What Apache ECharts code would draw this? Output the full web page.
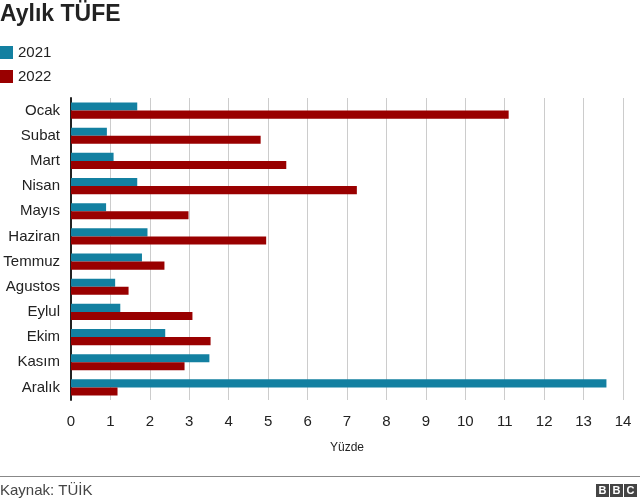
<!DOCTYPE html>
<html lang="tr">
<head>
    <meta charset="UTF-8">
    <title>Aylık TÜFE</title>
    <script src="https://cdn.jsdelivr.net/npm/echarts@6/dist/echarts.min.js"></script>
    <style>
        html, body { margin: 0; padding: 0; background: #fff; }
        #main { width: 640px; height: 504px; }
    </style>
</head>
<body>
<div id="main"></div>
<script>
    // aylar (yukarıdan aşağı)
    var months = ['Ocak', 'Subat', 'Mart', 'Nisan', 'Mayıs', 'Haziran', 'Temmuz', 'Agustos', 'Eylul', 'Ekim', 'Kasım', 'Aralık'];
    var cpi2021 = [1.68, 0.91, 1.08, 1.68, 0.89, 1.94, 1.80, 1.12, 1.25, 2.39, 3.51, 13.58];
    var cpi2022 = [11.10, 4.81, 5.46, 7.25, 2.98, 4.95, 2.37, 1.46, 3.08, 3.54, 2.88, 1.18];
    var xTicks = [0, 14, 1]; // min, max, interval

    var font = '"Liberation Sans", Arial, Helvetica, sans-serif';
    var myChart = echarts.init(document.getElementById('main'));

    var option = {
        animation: false,
        textStyle: { fontFamily: font },
        title: {
            text: 'Aylık TÜFE',
            left: 0,
            top: 3,
            padding: 0,
            textStyle: { fontSize: 23, fontWeight: 'bold', color: '#222', fontFamily: font }
        },
        legend: {
            data: ['2021', '2022'],
            orient: 'vertical',
            left: 0,
            top: 45,
            padding: 0,
            icon: 'rect',
            itemWidth: 13,
            itemHeight: 13,
            itemGap: 9,
            textStyle: { fontSize: 15, color: '#222', fontFamily: font }
        },
        grid: {
            left: 71,
            right: 17,
            top: 98,
            height: 302
        },
        xAxis: {
            type: 'value',
            min: xTicks[0],
            max: xTicks[1],
            interval: xTicks[2],
            name: 'Yüzde',
            nameLocation: 'middle',
            nameGap: 42,
            nameTextStyle: { fontSize: 12, color: '#222' },
            axisLine: { show: false },
            axisTick: { show: false },
            axisLabel: { fontSize: 15, color: '#222', margin: 14 },
            splitLine: { lineStyle: { color: '#cccccc', width: 1 } }
        },
        yAxis: {
            type: 'category',
            data: months,
            inverse: true,
            axisLine: { show: true, lineStyle: { color: '#222', width: 2 } },
            axisTick: { show: false },
            axisLabel: { fontSize: 15, color: '#222', margin: 11 }
        },
        series: [
            {
                name: '2021',
                type: 'bar',
                data: cpi2021,
                barGap: '0%',
                barCategoryGap: '36%',
                itemStyle: { color: '#1380a1' }
            },
            {
                name: '2022',
                type: 'bar',
                data: cpi2022,
                barGap: '0%',
                barCategoryGap: '36%',
                itemStyle: { color: '#990000' }
            }
        ],
        graphic: [
            {
                type: 'line',
                shape: { x1: 0, y1: 476.5, x2: 640, y2: 476.5 },
                style: { stroke: '#888', lineWidth: 1 }
            },
            {
                type: 'text',
                left: 0,
                top: 483,
                style: { text: 'Kaynak: TÜİK', font: '15px ' + font, fill: '#444' }
            },
            // BBC logo
            { type: 'rect', shape: { x: 596, y: 484, width: 13, height: 13 }, style: { fill: '#444' } },
            { type: 'rect', shape: { x: 610, y: 484, width: 13, height: 13 }, style: { fill: '#444' } },
            { type: 'rect', shape: { x: 624, y: 484, width: 13, height: 13 }, style: { fill: '#444' } },
            { type: 'text', x: 602.5, y: 491, style: { text: 'B', font: 'bold 11px ' + font, fill: '#fff', align: 'center', verticalAlign: 'middle' } },
            { type: 'text', x: 616.5, y: 491, style: { text: 'B', font: 'bold 11px ' + font, fill: '#fff', align: 'center', verticalAlign: 'middle' } },
            { type: 'text', x: 630.5, y: 491, style: { text: 'C', font: 'bold 11px ' + font, fill: '#fff', align: 'center', verticalAlign: 'middle' } }
        ]
    };

    myChart.setOption(option);
</script>
</body>
</html>
